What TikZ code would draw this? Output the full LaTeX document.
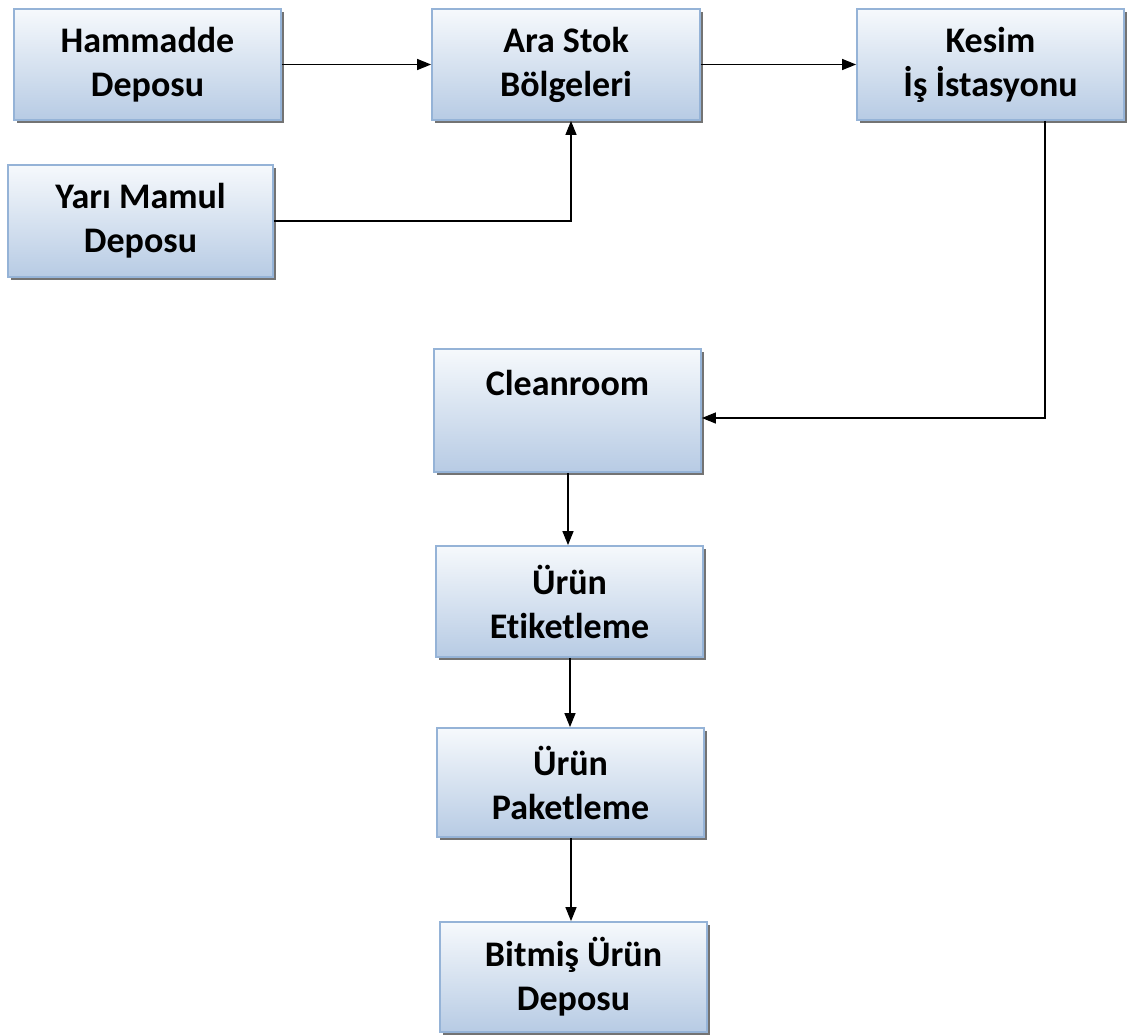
\documentclass[tikz,border=0pt]{standalone}
\usepackage{fontspec}
\setmainfont{Carlito}[Ligatures={NoCommon}]
\usetikzlibrary{arrows.meta,shadows}
\definecolor{topc}{HTML}{F6F9FC}
\definecolor{botc}{HTML}{B7CBE4}
\definecolor{edgec}{HTML}{95B3D7}
\tikzset{
  box/.style={rectangle, draw=edgec, line width=1.8pt, top color=topc, bottom color=botc,
    align=center, font=\fontsize{36}{44}\selectfont\bfseries, inner sep=0pt,
    drop shadow={shadow xshift=3pt, shadow yshift=-3pt, fill=black!55, opacity=1}},
  conn/.style={line width=1.3pt, -{Triangle[length=14pt,width=11pt]}}
}
\begin{document}
\begin{tikzpicture}[x=1pt,y=1pt]
\useasboundingbox (0,0) rectangle (1127,-1034);
\node[box, minimum width=267pt, minimum height=111pt] (ham) at (147.5,-64.5) {Hammadde\\Deposu};
\node[box, minimum width=268pt, minimum height=111pt] (ara) at (566,-64.5) {Ara Stok\\Bölgeleri};
\node[box, minimum width=267pt, minimum height=111pt] (kes) at (990.5,-64.5) {Kesim\\İş İstasyonu};
\node[box, minimum width=265pt, minimum height=112pt] (yar) at (140.5,-221) {Yarı Mamul\\Deposu};
\node[box, minimum width=267pt, minimum height=123pt] (cle) at (567.5,-410.5) {};
\node[font=\fontsize{36}{44}\selectfont\bfseries, inner sep=0pt] (cletxt) at (567.5,-383) {Cleanroom};
\node[box, minimum width=267pt, minimum height=111pt] (eti) at (569.5,-601.5) {Ürün\\Etiketleme};
\node[box, minimum width=267pt, minimum height=109pt] (pak) at (570.5,-782.5) {Ürün\\Paketleme};
\node[box, minimum width=267pt, minimum height=110pt] (bit) at (573.5,-977) {Bitmiş Ürün\\Deposu};

\draw[conn] (ham.east) -- (ara.west);
\draw[conn] (ara.east) -- (kes.west);
\draw[conn] (yar.east) -| (ara.south -| 571,0);
\draw[conn] (kes.south -| 1045,0) |- (cle.east |- 0,-418);
\draw[conn] (cle.south -| 568,0) -- (eti.north -| 568,0);
\draw[conn] (eti.south -| 570,0) -- (pak.north -| 570,0);
\draw[conn] (pak.south -| 571,0) -- (bit.north -| 571,0);
\end{tikzpicture}
\end{document}
